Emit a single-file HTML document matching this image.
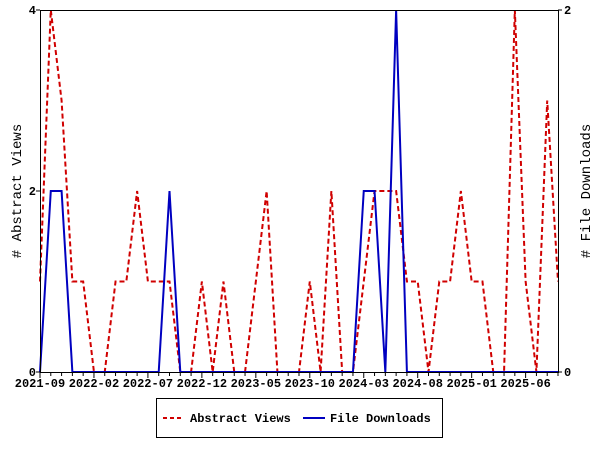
<!DOCTYPE html>
<html><head><meta charset="utf-8"><style>
html,body{margin:0;padding:0;background:#fff;}
svg{display:block;font-family:"Liberation Mono","DejaVu Sans Mono",monospace;}
</style></head><body>
<svg id="chart" width="600" height="450">
<g id="grid"></g>
<g id="marks"></g>
<g id="axes"></g>
<text transform="translate(21,191) rotate(-90)" text-anchor="middle" font-size="14" fill="#000">#  Abstract Views</text>
<text transform="translate(590,191) rotate(-90)" text-anchor="middle" font-size="14" fill="#000">#  File Downloads</text>
<g>
<rect x="156.5" y="398.5" width="286" height="39" fill="#fff" stroke="#000"/>
<line x1="163" y1="418" x2="183" y2="418" stroke="#d00000" stroke-width="2" stroke-dasharray="4,3"/>
<text x="190" y="422" font-size="12" font-weight="bold">Abstract Views</text>
<line x1="303" y1="418" x2="325" y2="418" stroke="#0000c0" stroke-width="2"/>
<text x="330" y="422" font-size="12" font-weight="bold">File Downloads</text>
</g>
</svg>
<script>
const views = [1,4,3,1,1,0,0,1,1,2,1,1,1,0,0,1,0,1,0,0,1,2,0,0,0,1,0,2,0,0,1,2,2,2,1,1,0,1,1,2,1,1,0,0,4,1,0,3,1];
const downloads = [0,1,1,0,0,0,0,0,0,0,0,0,1,0,0,0,0,0,0,0,0,0,0,0,0,0,0,0,0,0,1,1,0,2,0,0,0,0,0,0,0,0,0,0,0,0,0,0,0];
const xLabels = ["2021-09","2022-02","2022-07","2022-12","2023-05","2023-10","2024-03","2024-08","2025-01","2025-06"];
const yTicks = [0,2,4];
const y2Ticks = [0,2];
const X0=40,X1=558,Y0=372,Y1=10;
const n = views.length;
const xs = i => X0 + (X1-X0)*i/(n-1);
const yL = v => Y0 - (Y0-Y1)*v/4;
const yR = v => Y0 - (Y0-Y1)*v/2;
const NS="http://www.w3.org/2000/svg";
function mk(tag, attrs, parent){const e=document.createElementNS(NS,tag);for(const k in attrs)e.setAttribute(k,attrs[k]);parent.appendChild(e);return e;}
const marks=document.getElementById('marks'), axes=document.getElementById('axes');
let p1=mk('polyline',{points:views.map((v,i)=>xs(i)+','+yL(v)).join(' '),fill:'none',stroke:'#d00000','stroke-width':2,'stroke-dasharray':'5,3'},marks);


let p2=mk('polyline',{points:downloads.map((v,i)=>xs(i)+','+yR(v)).join(' '),fill:'none',stroke:'#0000c0','stroke-width':2},marks);


let fr=mk('rect',{x:X0+0.5,y:Y1+0.5,width:X1-X0,height:Y0-Y1,fill:'none',stroke:'#000'},axes);


for(let i=0;i<n;i++){
  const big = i%5===0;
  let t=mk('line',{x1:xs(i),x2:xs(i),y1:Y0,y2:Y0+(big?6:4),stroke:'#000'},axes);
  
  
  if(big && xLabels[i/5]){
    let l=mk('text',{x:xs(i),y:Y0+15,'text-anchor':'middle','font-size':12,'font-weight':'bold'},axes);
    l.textContent=xLabels[i/5];
    
    
  }
}
yTicks.forEach(v=>{
  let t=mk('line',{x1:X0-4,x2:X0,y1:yL(v),y2:yL(v),stroke:'#000'},axes);
  
  
  let l=mk('text',{x:X0-4,y:yL(v)+4,'text-anchor':'end','font-size':12,'font-weight':'bold'},axes);
  l.textContent=v;
  
  
});
y2Ticks.forEach(v=>{
  let t=mk('line',{x1:X1,x2:X1+4,y1:yR(v),y2:yR(v),stroke:'#000'},axes);
  
  
  let l=mk('text',{x:X1+6,y:yR(v)+4,'text-anchor':'start','font-size':12,'font-weight':'bold'},axes);
  l.textContent=v;
  
  
});
</script>
</body></html>
